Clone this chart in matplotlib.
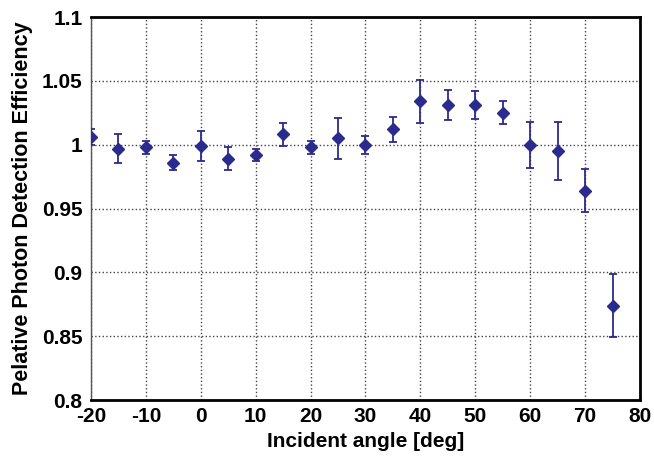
import matplotlib.pyplot as plt

# angles and relative PDE
angle = [-20, -15, -10, -5, 0, 5, 10, 15, 20, 25, 30, 35, 40, 45, 50, 55, 60, 65, 70, 75]
pde = [1.006, 0.997, 0.998, 0.986, 0.999, 0.989, 0.992, 1.008, 0.998, 1.005,
       1.000, 1.012, 1.034, 1.031, 1.031, 1.025, 1.000, 0.995, 0.964, 0.874]
err = [0.006, 0.011, 0.005, 0.006, 0.012, 0.009, 0.005, 0.009, 0.005, 0.016,
       0.007, 0.010, 0.017, 0.012, 0.011, 0.009, 0.018, 0.023, 0.017, 0.025]

xticks = [-20, -10, 0, 10, 20, 30, 40, 50, 60, 70, 80]
yticks = [0.8, 0.85, 0.9, 0.95, 1.0, 1.05, 1.1]
ytick_labels = ['0.8', '0.85', '0.9', '0.95', '1', '1.05', '1.1']

plt.rcParams['font.family'] = ['Liberation Sans', 'DejaVu Sans']
plt.rcParams['font.weight'] = 'bold'
plt.rcParams['axes.unicode_minus'] = False

fig = plt.figure(figsize=(6.54, 4.57), dpi=100)
ax = fig.add_axes([0.139, 0.1247, 0.8396, 0.8381])

ax.errorbar(angle, pde, yerr=err, fmt='D', color='#2b2b8e', ms=5.8,
            elinewidth=1.3, capsize=3, capthick=1.3, zorder=3)

ax.set_xlim(-20, 80)
ax.set_ylim(0.8, 1.1)
ax.set_xticks(xticks)
ax.set_yticks(yticks)
ax.set_yticklabels(ytick_labels)
ax.tick_params(length=0, labelsize=15)
ax.tick_params(axis='x', pad=5)
ax.tick_params(axis='y', pad=6)
ax.grid(True, color='#444444', linestyle=':', linewidth=1)

for side in ['top', 'right', 'bottom']:
    ax.spines[side].set_linewidth(2)
    ax.spines[side].set_color('black')
ax.spines['left'].set_linewidth(1)
ax.spines['left'].set_color('#555555')

ax.set_xlabel('Incident angle [deg]', fontsize=15, fontweight='bold', labelpad=4)
ax.set_ylabel('Pelative Photon Detection Efficiency', fontsize=15.5, fontweight='bold', labelpad=6)

fig.savefig('out.png', dpi=100)
